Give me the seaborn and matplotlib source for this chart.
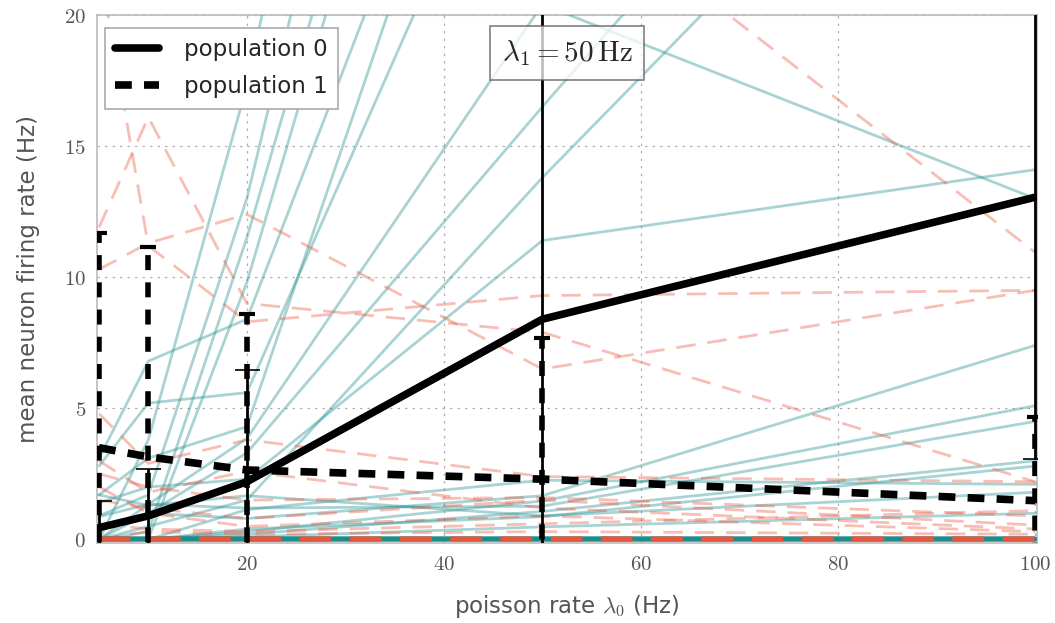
import numpy as np
import pandas as pd
import matplotlib
matplotlib.use("Agg")
import matplotlib.pyplot as plt
import seaborn as sns
from matplotlib.ticker import FuncFormatter
from matplotlib.lines import Line2D

# poisson input rates of population 0 (Hz)
rates = [5, 10, 20, 50, 100]

# mean firing rate and spread of each population
pop0_mean = [0.45, 0.9, 2.2, 8.4, 13.05]
pop0_std = [1.0, 1.8, 4.25, 14.0, 10.0]
pop1_mean = [3.5, 3.15, 2.65, 2.3, 1.48]
pop1_std = [8.2, 8.0, 5.95, 5.4, 3.2]

# single neurons of population 0
pop0_neurons = [
    [0.0, 3.8, 17.3, 70.0, 90.0],
    [0.9, 1.7, 13.0, 60.0, 80.0],
    [0.0, 0.3, 11.5, 50.0, 70.0],
    [0.0, 0.0, 9.8, 48.0, 65.0],
    [3.1, 6.8, 8.4, 37.5, 55.0],
    [1.7, 3.1, 4.3, 37.3, 55.0],
    [2.8, 5.2, 5.6, 31.1, 45.0],
    [0.0, 1.34, 3.85, 20.4, 13.0],
    [0.0, 1.0, 3.3, 16.5, 38.0],
    [0.0, 0.5, 1.5, 13.8, 33.0],
    [1.4, 2.0, 2.3, 11.4, 14.1],
    [0.0, 0.0, 1.14, 2.26, 2.1],
    [0.54, 1.0, 0.8, 1.67, 7.4],
    [0.0, 0.0, 0.3, 1.47, 5.1],
    [0.87, 1.34, 1.2, 1.27, 4.5],
    [0.0, 0.0, 0.2, 1.07, 3.0],
    [0.0, 0.0, 0.4, 0.87, 2.8],
    [1.7, 1.3, 1.67, 0.9, 1.8],
    [0.0, 0.0, 0.1, 0.48, 1.0],
    [0.0, 0.0, 0.0, 0.0, 0.0],
    [0.0, 0.0, 0.0, 0.0, 0.0],
    [0.0, 0.0, 0.0, 0.0, 0.0],
    [0.0, 0.0, 0.0, 0.0, 0.0],
    [0.0, 0.0, 0.0, 0.0, 0.0],
    [0.0, 0.0, 0.0, 0.0, 0.0],
    [0.0, 0.0, 0.0, 0.0, 0.0],
    [0.0, 0.0, 0.0, 0.0, 0.0],
    [0.0, 0.0, 0.0, 0.0, 0.0],
]

# single neurons of population 1
pop1_neurons = [
    [22.0, 11.2, 8.3, 9.3, 9.5],
    [11.9, 16.1, 9.0, 7.9, 2.2],
    [10.3, 11.3, 12.4, 6.5, 9.5],
    [30.0, 28.0, 26.0, 25.5, 10.95],
    [4.8, 2.9, 3.8, 2.4, 2.2],
    [2.5, 2.0, 1.5, 1.6, 0.9],
    [1.5, 1.2, 0.8, 1.5, 0.55],
    [3.0, 1.8, 2.6, 1.2, 0.4],
    [2.0, 1.0, 0.5, 0.9, 0.3],
    [0.6, 0.4, 0.3, 0.6, 1.1],
    [0.0, 0.3, 0.2, 0.3, 0.2],
    [0.0, 0.0, 0.0, 0.0, 0.0],
    [0.0, 0.0, 0.0, 0.0, 0.0],
    [0.0, 0.0, 0.0, 0.0, 0.0],
    [0.0, 0.0, 0.0, 0.0, 0.0],
    [0.0, 0.0, 0.0, 0.0, 0.0],
    [0.0, 0.0, 0.0, 0.0, 0.0],
    [0.0, 0.0, 0.0, 0.0, 0.0],
]

teal = "#1f8c8c"
salmon = "#e9553d"
grey = "#555555"

sns.set_style("whitegrid")
plt.rcParams["font.family"] = ["DejaVu Sans"]
plt.rcParams["mathtext.fontset"] = "cm"


def to_long(neurons):
    rows = []
    for i, vals in enumerate(neurons):
        for r, v in zip(rates, vals):
            rows.append({"neuron": i, "rate": r, "fr": v})
    return pd.DataFrame(rows)


fig = plt.figure(figsize=(10.55, 6.23), dpi=100)
ax = fig.add_axes([0.092, 0.129, 0.891, 0.847])

n_before = len(ax.lines)
sns.lineplot(data=to_long(pop0_neurons), x="rate", y="fr", units="neuron",
             estimator=None, color=teal, alpha=0.38, lw=2, ax=ax, legend=False)
sns.lineplot(data=to_long(pop1_neurons), x="rate", y="fr", units="neuron",
             estimator=None, color=salmon, alpha=0.38, lw=2, ax=ax, legend=False)
n0 = len(pop0_neurons)
for ln in ax.lines[n_before + n0:]:
    ln.set_dashes((7, 4.3))
# silent neurons pile up on the zero line
for ln in ax.lines[n_before:]:
    if np.max(ln.get_ydata()) == 0:
        ln.set_linewidth(3.2)
        ln.set_alpha(0.5)

# population means with spread
eb0 = ax.errorbar(rates, pop0_mean, yerr=pop0_std, color="black", lw=5.5,
                  elinewidth=2, capsize=9, capthick=1.2, zorder=5)
eb1 = ax.errorbar(rates, pop1_mean, yerr=pop1_std, color="black", lw=5.5,
                  elinewidth=4, capsize=5.5, capthick=3, zorder=5)
eb1[0].set_dashes((2.2, 1.6))
eb1[2][0].set_linestyle((0, (2.7, 2.2)))

ax.set_xlim(4.8, 100.2)
ax.set_ylim(-0.12, 20)
ax.set_xticks([20, 40, 60, 80, 100])
ax.set_yticks([0, 5, 10, 15, 20])
fmt = FuncFormatter(lambda v, p: f"${v:g}$")
ax.xaxis.set_major_formatter(fmt)
ax.yaxis.set_major_formatter(fmt)
ax.tick_params(labelsize=15, colors=grey, length=0, pad=8)
ax.grid(True, linestyle=(0, (2, 4)), color="#b0b0b0", lw=0.9)
for s in ax.spines.values():
    s.set_color("#bbbbbb")
    s.set_linewidth(1.2)
    s.set_zorder(1)

ax.set_xlabel(r"poisson rate $\lambda_0$ (Hz)", fontsize=16.5, color=grey, labelpad=14)
ax.set_ylabel("mean neuron firing rate (Hz)", fontsize=16.5, color=grey, labelpad=17)

handles = [Line2D([], [], color="black", lw=5.5),
           Line2D([], [], color="black", lw=5.5, dashes=(2.2, 1.6))]
leg = ax.legend(handles, ["population 0", "population 1"], loc="upper left",
                fontsize=16.5, frameon=True, fancybox=False, framealpha=1,
                edgecolor="#aaaaaa", borderpad=0.45, handlelength=1.9,
                handletextpad=1.1, labelspacing=0.6, borderaxespad=0,
                bbox_to_anchor=(0.0085, 0.975))
leg.get_frame().set_linewidth(1.2)

ax.text(0.5, 0.928, r"$\lambda_1 = 50\,\mathrm{Hz}$", transform=ax.transAxes,
        ha="center", va="center", fontsize=21, zorder=6,
        bbox=dict(boxstyle="square,pad=0.4", facecolor="white", alpha=0.75,
                  edgecolor="#555555", lw=1.2))

fig.savefig("out.png", dpi=100)
